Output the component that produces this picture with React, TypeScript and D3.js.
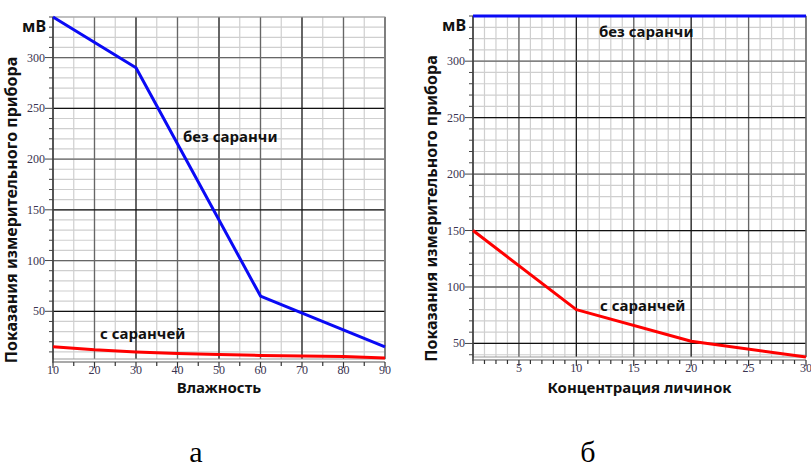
import React from 'react';
import * as d3 from 'd3';

// panel "а": readings vs humidity
const humidity = [10, 30, 60, 90];
const withoutLocustA = [340, 290, 65, 15];
const humidityRed = [10, 20, 30, 40, 50, 60, 70, 80, 90];
const withLocustA = [15, 12, 10, 8.5, 7.5, 6.5, 6, 5.5, 4];
const ticksA = [10, 20, 30, 40, 50, 60, 70, 80, 90];

// panel "б": readings vs larvae concentration
const concBlue = [1, 30];
const withoutLocustB = [340, 340];
const conc = [1, 10, 20, 30];
const withLocustB = [150, 80, 52, 38];
const ticksB = [5, 10, 15, 20, 25, 30];

const yTicks = [50, 100, 150, 200, 250, 300];

const boldFont = "'Noto Sans', sans-serif";
const serifFont = "'Liberation Serif', 'DejaVu Serif', serif";

function Panel(props) {
  const { x0, x1, y0, y1, xDomain, yDomain, xMinorStep, xMajorStep, xTicks, series, labels, xTitle, letter, letterX } = props;
  const x = d3.scaleLinear().domain(xDomain).range([x0, x1]);
  const y = d3.scaleLinear().domain(yDomain).range([y1, y0]);

  const xMinor = d3.range(Math.ceil(xDomain[0] / xMinorStep) * xMinorStep, xDomain[1] + 0.001, xMinorStep);
  const yMinor = d3.range(Math.ceil(yDomain[0] / 10) * 10, yDomain[1] + 0.001, 10);

  const midY = (y0 + y1) / 2;

  return (
    <g>
      {/* minor grid */}
      {xMinor.map(v => (
        <line key={'xm' + v} x1={x(v)} x2={x(v)} y1={y0} y2={y1} stroke="#cfcfcf" strokeWidth={1.2} />
      ))}
      {yMinor.map(v => (
        <line key={'ym' + v} x1={x0} x2={x1} y1={y(v)} y2={y(v)} stroke="#cfcfcf" strokeWidth={1.2} />
      ))}
      {/* major grid */}
      {xMinor.filter(v => v % xMajorStep === 0 && v > xDomain[0]).map((v, i) => (
        <line key={'xM' + v} x1={x(v)} x2={x(v)} y1={y0} y2={y1} stroke={i % 2 ? '#222' : '#666'} strokeWidth={1.3} />
      ))}
      {yTicks.map(v => (
        <line key={'yM' + v} x1={x0} x2={x1} y1={y(v)} y2={y(v)} stroke={v % 100 === 0 ? '#666' : '#111'} strokeWidth={1.3} />
      ))}
      {/* frame */}
      <rect x={x0} y={y0} width={x1 - x0} height={y1 - y0} fill="none" stroke="#999" strokeWidth={1} />
      {/* axes */}
      <line x1={x0} x2={x0} y1={y0} y2={y1 + 3} stroke="#333" strokeWidth={1.5} />
      <line x1={x0 - 1} x2={x1} y1={y1 + 3} y2={y1 + 3} stroke="#555" strokeWidth={1.2} />
      {yMinor.map(v => (
        <line key={'yt' + v} x1={x0 - (v % 50 === 0 ? 8 : 4)} x2={x0} y1={y(v)} y2={y(v)} stroke="#444" strokeWidth={1} />
      ))}
      {xMinor.map(v => (
        <line key={'xt' + v} x1={x(v)} x2={x(v)} y1={y1 + 3} y2={y1 + (v % xMajorStep === 0 ? 9 : 7)} stroke="#333" strokeWidth={1.2} />
      ))}
      {/* tick labels */}
      {yTicks.map(v => (
        <text key={'yl' + v} x={x0 - 8} y={y(v) + 4} textAnchor="end" fontFamily={serifFont} fontSize={12} fill="#3a3350">{v}</text>
      ))}
      {xTicks.map(v => (
        <text key={'xl' + v} x={x(v)} y={y1 + 15} textAnchor="middle" fontFamily={serifFont} fontSize={12} fill="#3a3350">{v}</text>
      ))}
      {/* series */}
      {series.map((s, i) => (
        <path key={'s' + i}
          d={d3.line<number>().x(d => x(d)).y((d, j) => y(s.ys[j]))(s.xs) || ''}
          fill="none" stroke={s.color} strokeWidth={3} strokeLinejoin="round" />
      ))}
      {/* labels */}
      {labels.map((l, i) => (
        <text key={'lb' + i} x={l.x} y={l.y} fontFamily={boldFont} fontWeight="bold" fontSize={15} fill="#111">{l.text}</text>
      ))}
      <text x={x0 - 31} y={y0 + 15} fontFamily={boldFont} fontWeight="bold" fontSize={16} fill="#111">мВ</text>
      <text transform={`translate(${x0 - 36},${midY + 22}) rotate(-90)`} textAnchor="middle" fontFamily={boldFont} fontWeight="bold" fontSize={16} fill="#111">
        Показания измерительного прибора
      </text>
      <text x={(x0 + x1) / 2} y={393} textAnchor="middle" fontFamily={boldFont} fontWeight="bold" fontSize={15} fill="#111">{xTitle}</text>
      <text x={letterX} y={462} textAnchor="middle" fontFamily={serifFont} fontSize={30} fill="#000">{letter}</text>
    </g>
  );
}

export default function App() {
  return (
    <div style={{ position: 'absolute', left: 0, top: 0 }}>
      <svg width={811} height={468} style={{ display: 'block', background: '#fff' }}>
        <Panel
          x0={53} x1={385} y0={17} y1={359}
          xDomain={[10, 90]} yDomain={[3, 340]}
          xMinorStep={5} xMajorStep={10} xTicks={ticksA}
          series={[
            { xs: humidity, ys: withoutLocustA, color: '#0a0af5' },
            { xs: humidityRed, ys: withLocustA, color: '#ff0000' },
          ]}
          labels={[
            { text: 'без саранчи', x: 183, y: 142 },
            { text: 'с саранчей', x: 100, y: 339 },
          ]}
          xTitle="Влажность" letter="а" letterX={196}
        />
        <Panel
          x0={473} x1={806} y0={16} y1={357}
          xDomain={[1, 30]} yDomain={[38, 340]}
          xMinorStep={1} xMajorStep={5} xTicks={ticksB}
          series={[
            { xs: concBlue, ys: withoutLocustB, color: '#0a0af5' },
            { xs: conc, ys: withLocustB, color: '#ff0000' },
          ]}
          labels={[
            { text: 'без саранчи', x: 599, y: 37 },
            { text: 'с саранчей', x: 600, y: 311 },
          ]}
          xTitle="Концентрация личинок" letter="б" letterX={588}
        />
      </svg>
    </div>
  );
}
